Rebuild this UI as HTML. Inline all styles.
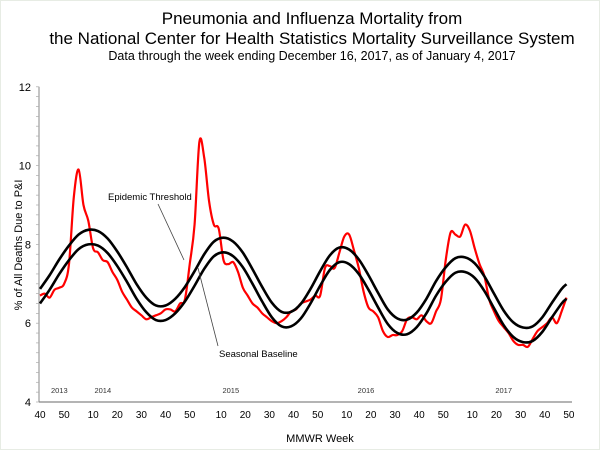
<!DOCTYPE html>
<html><head><meta charset="utf-8"><style>
body{margin:0;background:#fff;}
svg{display:block;font-family:"Liberation Sans",Arial,sans-serif;}
</style></head><body>
<svg id="chart" width="600" height="450">
<rect x="0.5" y="0.5" width="599" height="449" fill="#fff" stroke="#cfd8c8" stroke-dasharray="1,1"/>
<text x="312" y="24" font-size="17" text-anchor="middle">Pneumonia and Influenza Mortality from</text>
<text x="312" y="44" font-size="17" text-anchor="middle">the National Center for Health Statistics Mortality Surveillance System</text>
<text x="312" y="60" font-size="12.5" text-anchor="middle">Data through the week ending December 16, 2017, as of January 4, 2017</text>
<text x="320" y="442" font-size="11" text-anchor="middle">MMWR Week</text>
<text transform="translate(22,245) rotate(-90)" font-size="11" text-anchor="middle">% of All Deaths Due to P&amp;I</text>
<g id="axes"></g>
<g id="series"></g>
<text x="108" y="200" font-size="9.5">Epidemic Threshold</text>
<line x1="158" y1="204" x2="184" y2="260" stroke="#444" stroke-width="0.8"/>
<text x="219" y="357" font-size="9.5">Seasonal Baseline</text>
<line x1="218" y1="346" x2="198" y2="268" stroke="#444" stroke-width="0.8"/>
</svg>
<script>
// week index i (0 = week 40, 2013), values sampled every 2 weeks
const piValues=[6.7,6.75,6.65,6.85,6.9,7.0,7.5,9.2,9.9,9.0,8.6,7.9,7.8,7.6,7.55,7.3,7.1,6.8,6.6,6.4,6.3,6.2,6.1,6.15,6.2,6.25,6.35,6.35,6.3,6.5,6.6,7.5,8.5,10.6,10.2,9.1,8.5,8.4,7.6,7.5,7.55,7.3,6.9,6.7,6.5,6.4,6.25,6.15,6.05,6.0,6.05,6.15,6.3,6.35,6.5,6.55,6.6,6.7,6.7,7.4,7.45,7.4,7.8,8.2,8.25,7.85,7.4,6.8,6.4,6.3,6.15,5.8,5.65,5.7,5.7,5.8,6.1,6.15,6.1,6.2,6.05,6.0,6.3,6.6,7.6,8.3,8.25,8.2,8.5,8.35,7.9,7.5,7.2,6.6,6.3,6.05,5.9,5.75,5.55,5.45,5.45,5.4,5.6,5.8,5.9,6.0,6.15,6.0,6.3,6.65];
// sampled every 4 weeks, plus final point at week index 218
const baselineValues=[6.5,6.85,7.25,7.6,7.88,8.0,7.97,7.78,7.45,7.05,6.62,6.28,6.08,6.08,6.25,6.55,6.95,7.38,7.7,7.8,7.7,7.42,7.0,6.55,6.15,5.92,5.92,6.12,6.5,6.95,7.35,7.55,7.5,7.25,6.85,6.4,5.98,5.75,5.72,5.9,6.25,6.7,7.05,7.28,7.3,7.15,6.82,6.38,5.95,5.65,5.52,5.55,5.78,6.15,6.5,6.62];
const thresholdValues=[6.87,7.22,7.62,7.97,8.25,8.37,8.34,8.15,7.82,7.42,6.99,6.65,6.45,6.45,6.62,6.92,7.32,7.75,8.07,8.17,8.07,7.79,7.37,6.92,6.52,6.29,6.29,6.49,6.87,7.32,7.72,7.92,7.87,7.62,7.22,6.77,6.35,6.12,6.09,6.27,6.62,7.07,7.42,7.65,7.67,7.52,7.19,6.75,6.32,6.02,5.89,5.92,6.15,6.52,6.87,6.99];
const yTicks=[4,6,8,10,12];
const yearLabels=["2013","2014","2015","2016","2017"];
const yearWeekIdx=[8,26,79,135,192];
const yearLength=[52,53,52,52,52];
const tickWeeks=[10,20,30,40,50];

const X0=40,PXW=2.415,Y0=402,PXV=39.4;
const xs=i=>X0+PXW*i, ys=v=>Y0-(v-4)*PXV;
const NS="http://www.w3.org/2000/svg";
const axes=document.getElementById('axes'),series=document.getElementById('series');
function mk(tag,attrs,parent){const e=document.createElementNS(NS,tag);for(const k in attrs)e.setAttribute(k,attrs[k]);parent.appendChild(e);return e;}

let a=mk('line',{x1:39,y1:ys(12),x2:39,y2:Y0,stroke:'#888','stroke-width':1},axes);


a=mk('line',{x1:39,y1:Y0,x2:572,y2:Y0,stroke:'#888','stroke-width':1.2},axes);


for(let v=4;v<=12;v+=0.25){const t=mk('line',{x1:36,x2:39,y1:ys(v),y2:ys(v),stroke:'#aaa','stroke-width':0.7},axes);

}
yTicks.forEach(v=>{const t=mk('text',{x:31,y:ys(v)+4,'font-size':11,'text-anchor':'end'},axes);t.textContent=v;

});
// week labels
const labels=[];
{let idx=0;labels.push([0,40],[10,50]);idx=13;
for(let y=1;y<5;y++){tickWeeks.forEach(w=>{if(idx+w-1<=219)labels.push([idx+w-1,w]);});idx+=yearLength[y];}}
labels.forEach(([i,w])=>{const t=mk('text',{x:xs(i),y:418,'font-size':10,'text-anchor':'middle'},axes);t.textContent=w;

});
yearLabels.forEach((y,k)=>{const t=mk('text',{x:xs(yearWeekIdx[k]),y:393,'font-size':7.5,'text-anchor':'middle',fill:'#333'},axes);t.textContent=y;

});

function smooth(pts){let d=`M${pts[0][0]},${pts[0][1]}`;for(let i=0;i<pts.length-1;i++){const p0=pts[i-1]||pts[i],p1=pts[i],p2=pts[i+1],p3=pts[i+2]||p2;
d+=` C${p1[0]+(p2[0]-p0[0])/6},${p1[1]+(p2[1]-p0[1])/6} ${p2[0]-(p3[0]-p1[0])/6},${p2[1]-(p3[1]-p1[1])/6} ${p2[0]},${p2[1]}`;}return d;}
const bw=k=>Math.min(k*4,218);
let p=mk('path',{d:smooth(piValues.map((v,k)=>[xs(2*k),ys(v)])),fill:'none',stroke:'#f00','stroke-width':2.2,'stroke-linejoin':'round'},series);


p=mk('path',{d:smooth(thresholdValues.map((v,k)=>[xs(bw(k)),ys(v)])),fill:'none',stroke:'#000','stroke-width':2.6},series);


p=mk('path',{d:smooth(baselineValues.map((v,k)=>[xs(bw(k)),ys(v)])),fill:'none',stroke:'#000','stroke-width':2.6},series);


</script>
</body></html>
